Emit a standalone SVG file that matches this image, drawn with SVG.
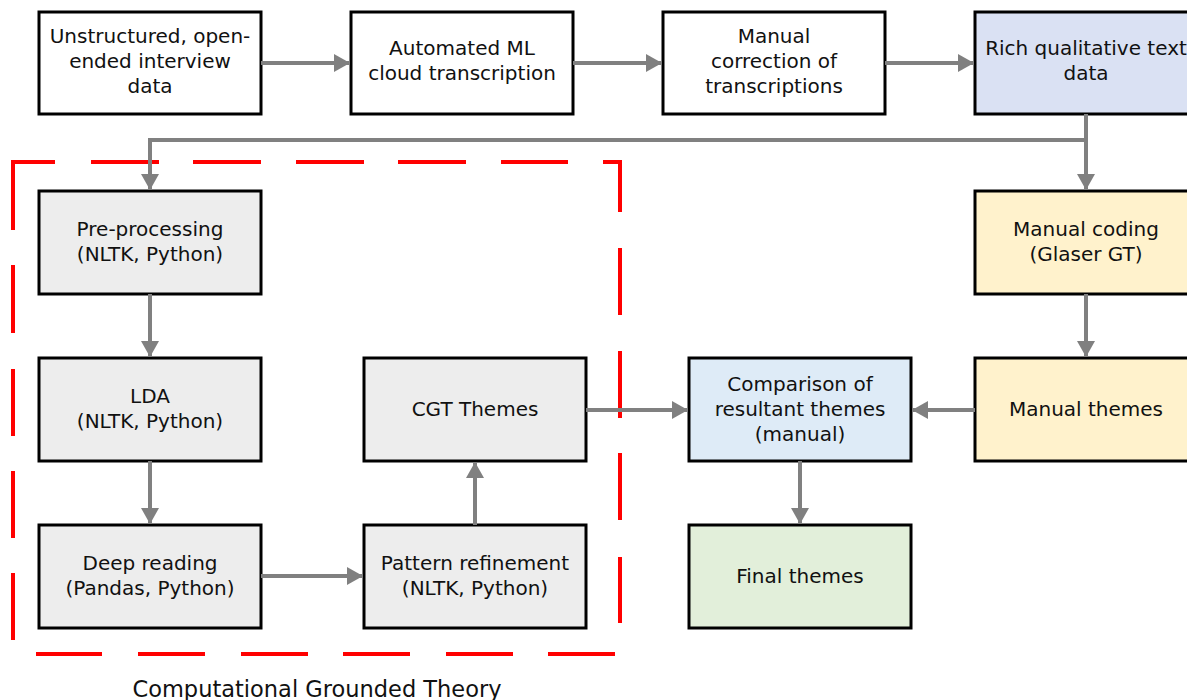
<svg xmlns="http://www.w3.org/2000/svg" width="1187" height="700" viewBox="0 0 1187 700">
<defs>
<style>
.box{stroke:#000;stroke-width:3}
.w{fill:#fff}
.g{fill:#ededed}
.lav{fill:#dae1f3}
.bl{fill:#deebf7}
.y{fill:#fff2cc}
.gr{fill:#e2efda}
text{font-family:"DejaVu Sans","Liberation Sans",sans-serif;font-size:20px;fill:#111;text-anchor:middle}
.conn{fill:none;stroke:#808080;stroke-width:4;marker-end:url(#ah)}
.frame{fill:none;stroke:#ff0000;stroke-width:4;stroke-linecap:butt;stroke-linejoin:miter}
</style>
<marker id="ah" markerUnits="userSpaceOnUse" markerWidth="18" markerHeight="18" viewBox="0 0 16 18" refX="16" refY="9" orient="auto">
<path d="M0,0 L16,9 L0,18 Z" fill="#808080"/>
</marker>
</defs>
<rect width="1187" height="700" fill="#fff"/>
<g id="cgt-frame">
<path class="frame" d="M13,230 V162 H55 M91,162 H159 M193,162 H261 M296,162 H364 M398,162 H466 M501,162 H568 M603,162 H620 V212 M620,248 V315 M620,351 V418 M620,453 V520 M620,557 V623 M615,654 H548 M513,654 H446 M410,654 H343 M308,654 H241 M205,654 H138 M102,654 H36 M13,640 V573 M13,538 V471 M13,436 V369 M13,333 V265"/>
<text x="317" y="697" style="font-size:22.5px">Computational Grounded Theory</text>
</g>
<g id="n1"><rect class="box w" x="39" y="12" width="222" height="102"/><text x="150" y="43">Unstructured, open-</text><text x="150" y="68">ended interview</text><text x="150" y="93">data</text></g>
<g id="n2"><rect class="box w" x="351" y="12" width="222" height="102"/><text x="462" y="55">Automated ML</text><text x="462" y="80">cloud transcription</text></g>
<g id="n3"><rect class="box w" x="663" y="12" width="222" height="102"/><text x="774" y="43">Manual</text><text x="774" y="68">correction of</text><text x="774" y="93">transcriptions</text></g>
<g id="n4"><rect class="box lav" x="975" y="12" width="222" height="102"/><text x="1086" y="55">Rich qualitative text</text><text x="1086" y="80">data</text></g>
<g id="n5"><rect class="box g" x="39" y="191" width="222" height="103"/><text x="150" y="236">Pre-processing</text><text x="150" y="261">(NLTK, Python)</text></g>
<g id="n6"><rect class="box y" x="975" y="191" width="222" height="103"/><text x="1086" y="236">Manual coding</text><text x="1086" y="261">(Glaser GT)</text></g>
<g id="n7"><rect class="box g" x="39" y="358" width="222" height="103"/><text x="150" y="403">LDA</text><text x="150" y="428">(NLTK, Python)</text></g>
<g id="n8"><rect class="box g" x="364" y="358" width="222" height="103"/><text x="475" y="416">CGT Themes</text></g>
<g id="n9"><rect class="box bl" x="689" y="358" width="222" height="103"/><text x="800" y="391">Comparison of</text><text x="800" y="416">resultant themes</text><text x="800" y="441">(manual)</text></g>
<g id="n10"><rect class="box y" x="975" y="358" width="222" height="103"/><text x="1086" y="416">Manual themes</text></g>
<g id="n11"><rect class="box g" x="39" y="525" width="222" height="103"/><text x="150" y="570">Deep reading</text><text x="150" y="595">(Pandas, Python)</text></g>
<g id="n12"><rect class="box g" x="364" y="525" width="222" height="103"/><text x="475" y="570">Pattern refinement</text><text x="475" y="595">(NLTK, Python)</text></g>
<g id="n13"><rect class="box gr" x="689" y="525" width="222" height="103"/><text x="800" y="583">Final themes</text></g>
<g id="connectors">
<path class="conn" d="M261,63 H350"/>
<path class="conn" d="M573,63 H662"/>
<path class="conn" d="M885,63 H974"/>
<path class="conn" d="M1086,114 V140 H150 V190"/>
<path class="conn" d="M1086,140 V190"/>
<path class="conn" d="M150,294 V357"/>
<path class="conn" d="M150,461 V524"/>
<path class="conn" d="M261,576 H363"/>
<path class="conn" d="M475,525 V462"/>
<path class="conn" d="M586,410 H688"/>
<path class="conn" d="M1086,294 V357"/>
<path class="conn" d="M975,410 H912"/>
<path class="conn" d="M800,461 V524"/>
</g>
</svg>
